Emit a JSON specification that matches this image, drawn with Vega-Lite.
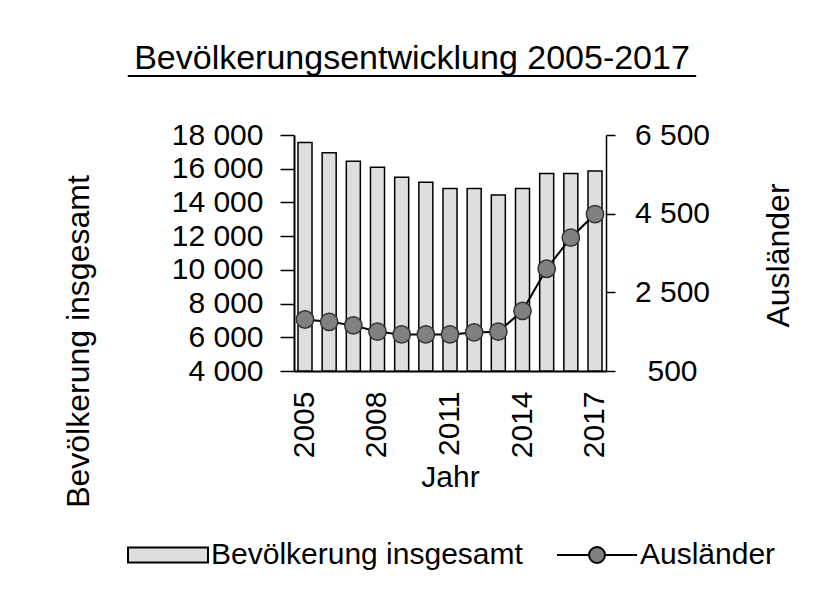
{
  "$schema": "https://vega.github.io/schema/vega-lite/v6.json",
  "width": 312,
  "height": 236,
  "autosize": {"type": "none"},
  "padding": {"left": 294, "top": 135, "right": 233, "bottom": 220},
  "background": "white",
  "title": {
    "text": "Bevölkerungsentwicklung 2005-2017",
    "subtitle": "__________________________________",
    "font": "Liberation Sans",
    "fontSize": 34,
    "fontWeight": "normal",
    "color": "black",
    "subtitleFont": "Liberation Sans",
    "subtitleFontSize": 30,
    "subtitleColor": "black",
    "subtitlePadding": -29,
    "anchor": "middle",
    "frame": "group",
    "dx": -38,
    "offset": 43
  },
  "data": {
    "values": [
      {"Jahr": 2005, "Reihe": "Bevölkerung insgesamt", "Wert": 17550},
      {"Jahr": 2006, "Reihe": "Bevölkerung insgesamt", "Wert": 16950},
      {"Jahr": 2007, "Reihe": "Bevölkerung insgesamt", "Wert": 16450},
      {"Jahr": 2008, "Reihe": "Bevölkerung insgesamt", "Wert": 16080},
      {"Jahr": 2009, "Reihe": "Bevölkerung insgesamt", "Wert": 15500},
      {"Jahr": 2010, "Reihe": "Bevölkerung insgesamt", "Wert": 15200},
      {"Jahr": 2011, "Reihe": "Bevölkerung insgesamt", "Wert": 14830},
      {"Jahr": 2012, "Reihe": "Bevölkerung insgesamt", "Wert": 14830},
      {"Jahr": 2013, "Reihe": "Bevölkerung insgesamt", "Wert": 14440},
      {"Jahr": 2014, "Reihe": "Bevölkerung insgesamt", "Wert": 14830},
      {"Jahr": 2015, "Reihe": "Bevölkerung insgesamt", "Wert": 15720},
      {"Jahr": 2016, "Reihe": "Bevölkerung insgesamt", "Wert": 15720},
      {"Jahr": 2017, "Reihe": "Bevölkerung insgesamt", "Wert": 15860},
      {"Jahr": 2005, "Reihe": "Ausländer", "Wert": 1810},
      {"Jahr": 2006, "Reihe": "Ausländer", "Wert": 1750},
      {"Jahr": 2007, "Reihe": "Ausländer", "Wert": 1660},
      {"Jahr": 2008, "Reihe": "Ausländer", "Wert": 1500},
      {"Jahr": 2009, "Reihe": "Ausländer", "Wert": 1430},
      {"Jahr": 2010, "Reihe": "Ausländer", "Wert": 1430},
      {"Jahr": 2011, "Reihe": "Ausländer", "Wert": 1430},
      {"Jahr": 2012, "Reihe": "Ausländer", "Wert": 1480},
      {"Jahr": 2013, "Reihe": "Ausländer", "Wert": 1500},
      {"Jahr": 2014, "Reihe": "Ausländer", "Wert": 2030},
      {"Jahr": 2015, "Reihe": "Ausländer", "Wert": 3100},
      {"Jahr": 2016, "Reihe": "Ausländer", "Wert": 3890},
      {"Jahr": 2017, "Reihe": "Ausländer", "Wert": 4490}
    ]
  },
  "encoding": {
    "x": {
      "field": "Jahr",
      "type": "ordinal",
      "scale": {"paddingInner": 0.42, "paddingOuter": 0.165},
      "axis": {
        "values": [2005, 2008, 2011, 2014, 2017],
        "labelAngle": -90,
        "labelAlign": "right",
        "labelBaseline": "middle",
        "labelPadding": 20,
        "ticks": false,
        "domainWidth": 2,
        "title": "Jahr",
        "titleX": 156,
        "titleY": 106,
        "titleAlign": "center",
        "titleBaseline": "middle",
        "titleFontSize": 30
      }
    }
  },
  "layer": [
    {
      "transform": [{"filter": "datum.Reihe === 'Bevölkerung insgesamt'"}],
      "mark": {"type": "bar", "stroke": "black", "strokeWidth": 1.5},
      "encoding": {
        "y": {
          "field": "Wert",
          "type": "quantitative",
          "scale": {"domain": [4000, 18000], "nice": false, "zero": false},
          "axis": {
            "orient": "left",
            "values": [4000, 6000, 8000, 10000, 12000, 14000, 16000, 18000],
            "labelExpr": "replace(format(datum.value, ','), ',', ' ')",
            "tickSize": 14,
            "labelPadding": 17,
            "domainWidth": 2,
            "tickWidth": 1.5,
            "title": "Bevölkerung insgesamt",
            "titleAngle": 270,
            "titleX": -216,
            "titleY": 206,
            "titleAlign": "center",
            "titleBaseline": "middle"
          }
        },
        "y2": {"datum": 4000},
        "fill": {
          "field": "Reihe",
          "type": "nominal",
          "scale": {"domain": ["Bevölkerung insgesamt", "Ausländer"], "range": ["#dedede", "#808080"]},
          "legend": {
            "orient": "none",
            "direction": "horizontal",
            "columns": 2,
            "legendX": -141,
            "legendY": 405,
            "title": null,
            "labelFontSize": 30,
            "labelColor": "black",
            "labelLimit": 0,
            "labelOffset": 28,
            "symbolSize": 400,
            "symbolType": {"expr": "datum.value === 'Ausländer' ? 'M-4,0H-0.8M0.8,0H4M-0.8,0A0.8,0.8,0,1,1,0.8,0A0.8,0.8,0,1,1,-0.8,0Z' : 'M-4,-0.75H4V0.75H-4Z'"},
            "symbolStrokeColor": "black",
            "symbolStrokeWidth": 2,
            "columnPadding": 30
          }
        }
      }
    },
    {
      "transform": [{"filter": "datum.Reihe === 'Ausländer'"}],
      "encoding": {
        "y": {
          "field": "Wert",
          "type": "quantitative",
          "scale": {"domain": [500, 6500], "nice": false, "zero": false},
          "axis": {
            "orient": "right",
            "values": [500, 2500, 4500, 6500],
            "labelExpr": "replace(format(datum.value, ','), ',', ' ')",
            "tickSize": 9,
            "labelPadding": 57,
            "labelAlign": "center",
            "domainWidth": 1.5,
            "tickWidth": 1.5,
            "title": "Ausländer",
            "titleAngle": 270,
            "titleX": 172,
            "titleY": 120,
            "titleAlign": "center",
            "titleBaseline": "middle"
          }
        }
      },
      "layer": [
        {"mark": {"type": "line", "color": "black", "strokeWidth": 2}},
        {
          "mark": {"type": "point", "filled": true, "shape": "circle", "size": 300, "stroke": "#333333", "strokeWidth": 1.5, "opacity": 1},
          "encoding": {
            "fill": {
              "field": "Reihe",
              "type": "nominal",
              "legend": {
                "orient": "none",
                "direction": "horizontal",
                "columns": 2,
                "legendX": -141,
                "legendY": 405,
                "title": null,
                "labelFontSize": 30,
                "labelColor": "black",
                "labelLimit": 0,
                "labelOffset": 28,
                "symbolSize": 400,
                "symbolType": {"expr": "datum.value === 'Ausländer' ? 'M-4,0H-0.8M0.8,0H4M-0.8,0A0.8,0.8,0,1,1,0.8,0A0.8,0.8,0,1,1,-0.8,0Z' : 'M-4,-0.75H4V0.75H-4Z'"},
                "symbolStrokeColor": "black",
                "symbolStrokeWidth": 2,
                "columnPadding": 30
              }
            }
          }
        }
      ]
    }
  ],
  "resolve": {"scale": {"y": "independent"}},
  "config": {
    "font": "Liberation Sans",
    "view": {"stroke": null},
    "axis": {
      "labelFont": "Liberation Sans",
      "titleFont": "Liberation Sans",
      "labelFontSize": 30,
      "titleFontSize": 32,
      "titleFontWeight": "normal",
      "labelColor": "black",
      "titleColor": "black",
      "domainColor": "black",
      "tickColor": "black",
      "grid": false,
      "labelOverlap": false,
      "labelBound": false,
      "labelFlush": false
    },
    "legend": {"labelFont": "Liberation Sans"}
  }
}
